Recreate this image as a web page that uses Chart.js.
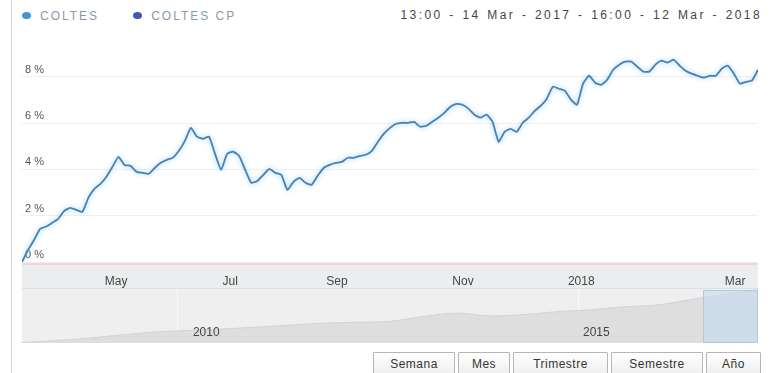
<!DOCTYPE html>
<html>
<head>
<meta charset="utf-8">
<script src="https://cdn.jsdelivr.net/npm/chart.js@4"></script>
<style>
  html, body { margin: 0; padding: 0; background: #fff; }
  body { width: 773px; height: 373px; position: relative; overflow: hidden; font-family: "Liberation Sans", Arial, sans-serif; }
  .frame { position: absolute; left: 11px; top: 0; width: 1px; height: 373px; background: #d4d4d4; }
  #legend { position: absolute; left: 22px; top: 9px; font-size: 12px; line-height: 14px; letter-spacing: 2px; color: #8799ad; white-space: nowrap; }
  #legend .item { display: inline-block; margin-right: 34px; }
  #legend .dot { display: inline-block; width: 9px; height: 7px; border-radius: 50%; margin-right: 9px; vertical-align: 1px; }
  #range { position: absolute; right: 11px; top: 8px; font-size: 12px; line-height: 14px; letter-spacing: 2.4px; word-spacing: 1px; color: #444; white-space: nowrap; }
  #main { position: absolute; left: 12px; top: 0; }
  #nav { position: absolute; left: 12px; top: 289px; }
  .btns { position: absolute; left: 373px; top: 352px; display: flex; gap: 3px; }
  .btns button { height: 24px; padding: 0; border: 1px solid #b5b5b5; border-radius: 1px; background: linear-gradient(#ffffff, #eeeeee); font: 12px "Liberation Sans", Arial, sans-serif; letter-spacing: 0.5px; color: #333; }
  .btns button:nth-child(1) { width: 82px; }
  .btns button:nth-child(2) { width: 52px; }
  .btns button:nth-child(3) { width: 95px; }
  .btns button:nth-child(4) { width: 92px; }
  .btns button:nth-child(5) { width: 55px; }
</style>
</head>
<body>
<div class="frame"></div>
<div id="legend"></div>
<div id="range"></div>
<canvas id="main" width="761" height="289"></canvas>
<canvas id="nav" width="761" height="56"></canvas>
<div class="btns" id="btns"></div>
<script>
// cumulative change in %, one point per ~trading day step
const values = [0.00,0.52,0.95,1.43,1.53,1.69,1.86,2.21,2.34,2.25,2.16,2.77,3.16,3.37,3.68,4.11,4.54,4.19,4.15,3.89,
  3.85,3.81,4.06,4.28,4.41,4.50,4.80,5.23,5.79,5.41,5.32,5.41,4.67,3.98,4.67,4.76,4.58,3.98,3.42,3.50,
  3.76,4.02,3.85,3.76,3.11,3.46,3.63,3.42,3.33,3.72,4.06,4.19,4.28,4.32,4.50,4.50,4.58,4.63,4.80,5.19,
  5.54,5.79,5.97,6.01,6.01,6.05,5.84,5.88,6.05,6.23,6.44,6.70,6.83,6.79,6.62,6.36,6.23,6.36,6.05,5.19,
  5.62,5.75,5.62,6.01,6.23,6.53,6.75,7.05,7.57,7.48,7.39,7.01,6.79,7.70,8.04,7.74,7.65,7.87,8.30,8.52,
  8.65,8.65,8.43,8.22,8.22,8.52,8.69,8.61,8.74,8.48,8.26,8.13,8.04,7.96,8.04,8.04,8.35,8.48,8.13,7.70,
  7.78,7.83,8.30];
const xTickPos = [15.6, 34.5, 52.2, 73.1, 92.7, 118.2];
const xTickLabels = ['May', 'Jul', 'Sep', 'Nov', '2018', 'Mar'];
const yTicks = [0, 2, 4, 6, 8];

// navigator (long history)
const navValues = [0.5, 2.5, 5, 8.5, 11.5, 13, 14.5, 16.5, 18.5, 20.5, 21.5, 22.5, 27.5, 31, 28, 29.5, 32.5, 34.5, 37.5, 39.5, 45, 50.5, 55];
const navTickPos = [4.66, 16.62];
const navTickLabels = ['2010', '2015'];
const navWindow = [20.36, 22];

const seriesNames = ['COLTES', 'COLTES CP'];
const seriesColors = ['#3f97d3', '#4157b8'];
const rangeText = '13:00 - 14 Mar - 2017 - 16:00 - 12 Mar - 2018';
const rangeButtons = ['Semana', 'Mes', 'Trimestre', 'Semestre', 'Año'];

const FONT = '"Liberation Sans", Arial, sans-serif';

document.getElementById('legend').innerHTML = seriesNames.map((n, i) =>
  `<span class="item"><span class="dot" style="background:${seriesColors[i]}"></span>${n}</span>`).join('');
document.getElementById('range').textContent = rangeText;
document.getElementById('btns').innerHTML = rangeButtons.map(b => `<button>${b}</button>`).join('');

const band = {
  id: 'band',
  beforeDraw(chart) {
    const {ctx, chartArea: a, scales: {x}} = chart;
    ctx.save();
    ctx.fillStyle = '#ebedef';
    ctx.fillRect(a.left, a.bottom, a.right - a.left, x.bottom - a.bottom);
    ctx.fillStyle = '#f3d5d9';
    ctx.fillRect(a.left, a.bottom, a.right - a.left, 3);
    ctx.fillStyle = '#d3e2ec';
    ctx.fillRect(a.left, x.bottom - 1, a.right - a.left, 1);
    ctx.restore();
  }
};

const glow = {
  id: 'glow',
  beforeDatasetDraw(chart) {
    const c = chart.ctx;
    c.save();
    c.shadowColor = 'rgba(120,190,240,0.8)';
    c.shadowBlur = 5;
  },
  afterDatasetDraw(chart) { chart.ctx.restore(); }
};

new Chart(document.getElementById('main'), {
  type: 'line',
  data: {
    datasets: [{
      label: seriesNames[0],
      data: values.map((v, i) => ({x: i, y: v})),
      borderColor: '#4682b4',
      borderWidth: 1.8,
      pointRadius: 0,
      tension: 0.15,
      fill: false
    }]
  },
  options: {
    responsive: false,
    animation: false,
    layout: {padding: {left: 10, right: 15, top: 35, bottom: 0}},
    plugins: {legend: {display: false}, tooltip: {enabled: false}},
    scales: {
      x: {
        type: 'linear',
        min: 0,
        max: values.length - 1,
        afterBuildTicks: s => { s.ticks = xTickPos.map(v => ({value: v})); },
        afterFit: s => { s.height = 27; },
        grid: {display: false},
        border: {display: false},
        ticks: {
          padding: 4,
          color: '#444',
          font: {family: FONT, size: 12},
          maxRotation: 0,
          autoSkip: false,
          callback: (v, i) => xTickLabels[i]
        }
      },
      y: {
        min: 0,
        max: 9.8,
        afterBuildTicks: s => { s.ticks = yTicks.map(v => ({value: v})); },
        afterFit: s => { s.width = 0; },
        grid: {color: '#efefef', drawTicks: false},
        border: {display: false},
        ticks: {
          mirror: true,
          padding: 3,
          labelOffset: -7,
          color: '#555',
          font: {family: FONT, size: 11},
          callback: v => v + ' %'
        }
      }
    }
  },
  plugins: [band, glow]
});

const navDeco = {
  id: 'navDeco',
  beforeDraw(chart) {
    const {ctx, chartArea: a} = chart;
    ctx.save();
    ctx.fillStyle = '#efefef';
    ctx.fillRect(a.left, a.top, a.right - a.left, a.bottom - a.top);
    ctx.restore();
  },
  afterDatasetsDraw(chart) {
    const {ctx, chartArea: a, scales: {x}} = chart;
    const x0 = x.getPixelForValue(navWindow[0]);
    const x1 = x.getPixelForValue(navWindow[1]);
    ctx.save();
    ctx.fillStyle = 'rgba(196,220,242,0.6)';
    ctx.fillRect(x0, a.top + 1, x1 - x0, a.bottom - a.top - 1);
    ctx.strokeStyle = '#b9c6d1';
    ctx.lineWidth = 1;
    ctx.strokeRect(Math.round(x0) + 0.5, a.top + 1.5, Math.round(x1 - x0) - 1, a.bottom - a.top - 2);
    ctx.fillStyle = '#444';
    ctx.font = '12px ' + FONT;
    ctx.textBaseline = 'middle';
    navTickPos.forEach((p, i) => {
      ctx.fillText(navTickLabels[i], x.getPixelForValue(p) + (i === 0 ? 15 : 5), a.bottom - 10);
    });
    ctx.restore();
  }
};

new Chart(document.getElementById('nav'), {
  type: 'line',
  data: {
    datasets: [{
      data: navValues.map((v, i) => ({x: i, y: v})),
      borderColor: '#d3d3d3',
      borderWidth: 1,
      backgroundColor: '#dedede',
      fill: 'origin',
      pointRadius: 0,
      tension: 0.3
    }]
  },
  options: {
    responsive: false,
    animation: false,
    layout: {padding: {left: 10, right: 15, top: 0, bottom: 2}},
    plugins: {legend: {display: false}, tooltip: {enabled: false}},
    scales: {
      x: {
        type: 'linear',
        min: 0,
        max: navValues.length - 1,
        afterBuildTicks: s => { s.ticks = navTickPos.map(v => ({value: v})); },
        afterFit: s => { s.height = 0; },
        grid: {color: '#f9f9f9', drawTicks: false},
        border: {display: false},
        ticks: {display: false}
      },
      y: {display: false, min: 0, max: 56}
    }
  },
  plugins: [navDeco]
});
</script>
</body>
</html>
